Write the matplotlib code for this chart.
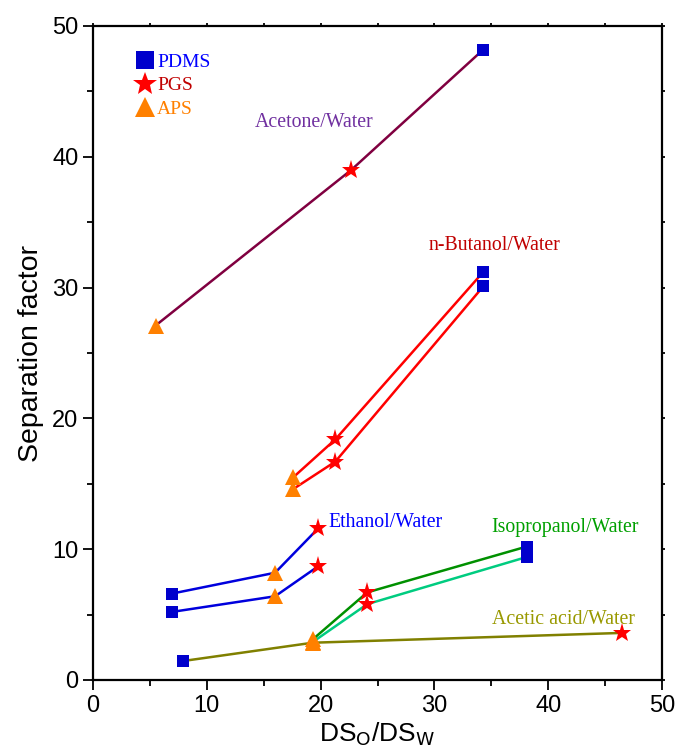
import matplotlib
matplotlib.use("Agg")
import matplotlib.pyplot as plt
from matplotlib.lines import Line2D

# ---------------- data ----------------
membranes = ["PDMS", "PGS", "APS"]

acetone_x = [5.5, 22.7, 34.3]
acetone_y = [27.1, 39.0, 48.2]
acetone_m = ["APS", "PGS", "PDMS"]

butanol1_x = [17.6, 21.3, 34.3]
butanol1_y = [15.5, 18.4, 31.2]
butanol2_x = [17.6, 21.3, 34.3]
butanol2_y = [14.6, 16.7, 30.1]
butanol_m = ["APS", "PGS", "PDMS"]

ethanol1_x = [6.9, 16.0, 19.8]
ethanol1_y = [6.6, 8.2, 11.6]
ethanol2_x = [6.9, 16.0, 19.8]
ethanol2_y = [5.2, 6.4, 8.7]
ethanol_m = ["PDMS", "APS", "PGS"]

isoprop1_x = [19.3, 24.1, 38.1]
isoprop1_y = [3.1, 6.7, 10.2]
isoprop2_x = [19.3, 24.1, 38.1]
isoprop2_y = [2.9, 5.8, 9.4]
isoprop_m = ["APS", "PGS", "PDMS"]

acetic_x = [7.9, 19.3, 46.5]
acetic_y = [1.45, 2.85, 3.6]
acetic_m = ["PDMS", "APS", "PGS"]

# ---------------- styles ----------------
mstyle = {
    "PDMS": dict(marker="s", color="#0000CC", ms=9),
    "PGS": dict(marker="*", color="#FF0000", ms=14),
    "APS": dict(marker="^", color="#FF8000", ms=11),
}

fig = plt.figure(figsize=(6.75, 7.49), dpi=100)
ax = fig.add_axes([93/675, 69/749, (662-93)/675, (680-26)/749])

serif = ["Liberation Serif", "DejaVu Serif"]
sans = ["Liberation Sans Narrow", "Liberation Sans", "DejaVu Sans"]

def series(xs, ys, ms, lc):
    ax.plot(xs, ys, color=lc, lw=1.8, zorder=2)
    for x, y, m in zip(xs, ys, ms):
        st = mstyle[m]
        ax.plot([x], [y], linestyle="none", marker=st["marker"], color=st["color"],
                markersize=st["ms"], markeredgewidth=0, zorder=3)

series(acetone_x, acetone_y, acetone_m, "#800040")
series(butanol1_x, butanol1_y, butanol_m, "#FF0000")
series(butanol2_x, butanol2_y, butanol_m, "#FF0000")
series(ethanol1_x, ethanol1_y, ethanol_m, "#0000DD")
series(ethanol2_x, ethanol2_y, ethanol_m, "#0000DD")
series(acetic_x, acetic_y, acetic_m, "#808000")
series(isoprop2_x, isoprop2_y, isoprop_m, "#00CC80")
series(isoprop1_x, isoprop1_y, isoprop_m, "#009000")

tk = dict(fontsize=14.3, family=serif)
ax.text(14.2, 42.3, "Acetone/Water", color="#7030A0", **tk)
ax.text(29.5, 32.9, "n-Butanol/Water", color="#C00000", **tk)
ax.text(20.7, 11.7, "Ethanol/Water", color="#0000FF", **tk)
ax.text(35.0, 11.3, "Isopropanol/Water", color="#00A000", **tk)
ax.text(35.1, 4.3, "Acetic acid/Water", color="#999900", **tk)

# legend
handles = [Line2D([], [], linestyle="none", marker=mstyle[m]["marker"], color=mstyle[m]["color"],
                  markersize=mstyle[m]["ms"] + 4, markeredgewidth=0) for m in membranes]
leg = ax.legend(handles, membranes, loc="upper left", bbox_to_anchor=(0.06, 0.97),
                frameon=False, prop=dict(family=serif, size=14), handlelength=1.0,
                handletextpad=0.15, labelspacing=0.3, borderaxespad=0,
                labelcolor=["#0000FF", "#C00000", "#FF8000"])

ax.set_xlim(0, 50)
ax.set_ylim(0, 50)
ax.set_xticks([0, 10, 20, 30, 40, 50])
ax.set_yticks([0, 10, 20, 30, 40, 50])
ax.set_xticks([5, 15, 25, 35, 45], minor=True)
ax.set_yticks([5, 15, 25, 35, 45], minor=True)
ax.tick_params(which="major", direction="out", length=7, width=1.3, labelsize=17)
ax.tick_params(which="minor", direction="out", length=4, width=1.3)
ax.tick_params(axis="x", which="both", top=True, labeltop=False)
ax.tick_params(axis="y", which="both", right=True, labelright=False)
# tiny ticks on top/right
for t in ax.xaxis.get_major_ticks() + ax.xaxis.get_minor_ticks():
    t.tick2line.set_markersize(2)
for t in ax.yaxis.get_major_ticks() + ax.yaxis.get_minor_ticks():
    t.tick2line.set_markersize(2)
for lab in ax.get_xticklabels() + ax.get_yticklabels():
    lab.set_family(sans)
for s in ax.spines.values():
    s.set_linewidth(1.6)

ax.set_xlabel(r"DS$_\mathrm{O}$/DS$_\mathrm{W}$", fontsize=19, family=sans, labelpad=3)
ax.set_ylabel("Separation factor", fontsize=20.5, family=sans, labelpad=6)

fig.savefig("out.png", dpi=100)
